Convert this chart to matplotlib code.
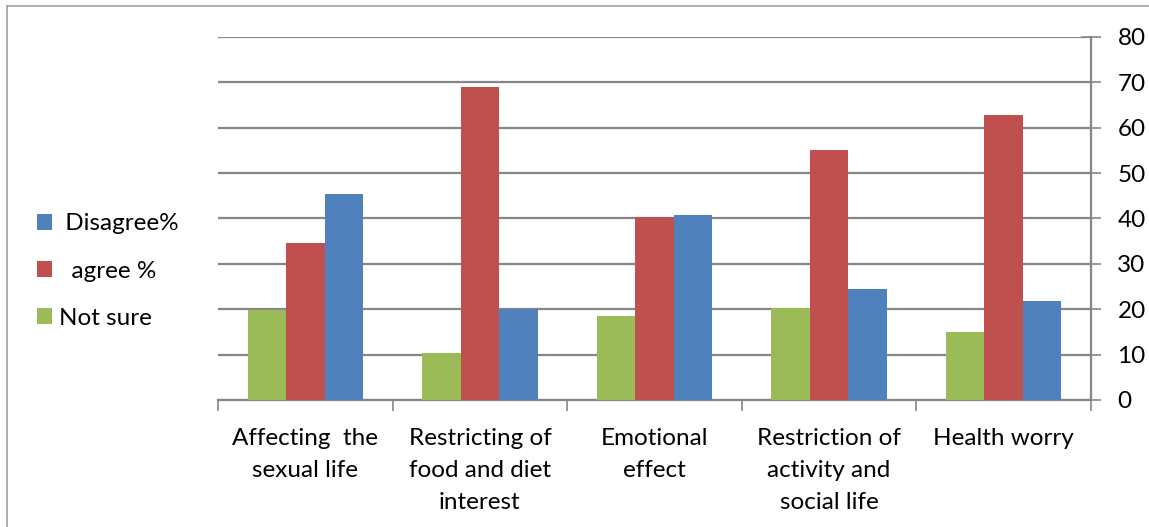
import matplotlib
matplotlib.use("Agg")
import matplotlib.pyplot as plt
import numpy as np
from matplotlib.lines import Line2D

categories = ["Affecting  the\nsexual life", "Restricting of\nfood and diet\ninterest",
              "Emotional\neffect", "Restriction of\nactivity and\nsocial life", "Health worry"]
not_sure = [19.9, 10.4, 18.5, 20.3, 14.9]
agree = [34.5, 69.0, 40.3, 55.0, 62.9]
disagree = [45.3, 20.1, 40.7, 24.4, 21.8]
yticks = [0, 10, 20, 30, 40, 50, 60, 70, 80]

plt.rcParams['font.family'] = ['Lato', 'DejaVu Sans']

fig = plt.figure(figsize=(11.49, 5.27), dpi=100)
ax = fig.add_axes([218/1149, 1-400/527, (1091-218)/1149, (400-37)/527])

grid_c = "#868686"
fs = 17.5
x = np.arange(len(categories))
w = 0.22
ax.bar(x - w, not_sure, w, color="#9BBB59", label="Not sure", zorder=3)
ax.bar(x, agree, w, color="#C0504D", label="  agree %", zorder=3)
ax.bar(x + w, disagree, w, color="#4F81BD", label=" Disagree%", zorder=3)

ax.set_xlim(-0.5, len(categories) - 0.5)
ax.set_ylim(0, 80)
ax.set_yticks(yticks)
ax.yaxis.tick_right()
ax.yaxis.grid(True, color=grid_c, linewidth=1.6, zorder=0)
ax.tick_params(axis='y', direction='inout', length=14, width=1.2, color=grid_c,
               labelsize=fs, pad=12)
for lab in ax.get_yticklabels():
    lab.set_horizontalalignment('left')

ax.set_xticks(np.arange(-0.5, len(categories), 1.0), minor=False)
ax.set_xticklabels([])
ax.set_xticks(x, minor=True)
ax.set_xticklabels(categories, minor=True, fontsize=fs, linespacing=1.66, va='top')
ax.tick_params(axis='x', which='major', direction='out', length=8, width=1.2, color=grid_c)
ax.tick_params(axis='x', which='minor', length=0, pad=20)

for s in ['top', 'left']:
    ax.spines[s].set_visible(False)
ax.spines['right'].set_color(grid_c)
ax.spines['right'].set_linewidth(1.6)
ax.spines['bottom'].set_color(grid_c)
ax.spines['bottom'].set_linewidth(1.6)

handles, labels = ax.get_legend_handles_labels()
leg = fig.legend(handles[::-1], labels[::-1], loc='center left',
                 bbox_to_anchor=(25/1149, 1-271/527), frameon=False,
                 fontsize=fs, handlelength=0.6, handleheight=0.6,
                 handletextpad=0.3, labelspacing=1.07, borderpad=0)

# outer frame (top and left edges visible)
fig.add_artist(Line2D([7/1149, 1], [1-6/527, 1-6/527], color="#A0A0A0", linewidth=1.2,
                      transform=fig.transFigure))
fig.add_artist(Line2D([7/1149, 7/1149], [0, 1-6/527], color="#A0A0A0", linewidth=1.2,
                      transform=fig.transFigure))

fig.savefig("out.png", dpi=100)
